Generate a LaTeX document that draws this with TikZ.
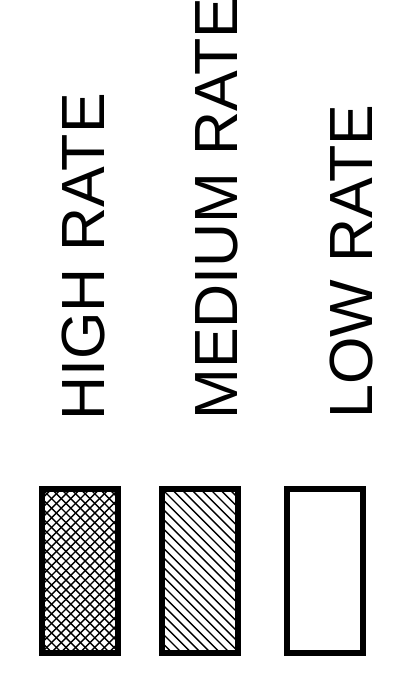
\documentclass[tikz,border=0pt]{standalone}
\usepackage{fontspec}
\setmainfont{Liberation Sans}

\begin{document}
\begin{tikzpicture}[
  x=1pt,y=-1pt,
  key/.style={draw,line width=6pt,minimum width=76pt,minimum height=163.5pt,
              inner sep=0pt,outer sep=0pt},
  hatchline/.style={line width=1.4pt},
  rate/.style={rotate=90,anchor=base west,inner sep=0pt,
               font=\fontsize{61}{61}\selectfont}
]
\useasboundingbox (0,0) rectangle (413,676);

\node[key] (high)   at (80,570.75) {};
\node[key] (medium) at (200,570.75) {};
\node[key] (low)    at (325,570.75) {};

% cross hatching
\begin{scope}
  \clip (high.south west) rectangle (high.north east);
  \foreach \d in {-172.8,-163.2,...,80}
    \draw[hatchline] ([xshift=\d pt]high.north west) -- ++(180,180);
  \foreach \d in {0,9.6,...,256}
    \draw[hatchline] ([xshift=\d pt]high.north west) -- ++(-180,180);
\end{scope}

% single hatching
\begin{scope}
  \clip (medium.south west) rectangle (medium.north east);
  \foreach \d in {-172.8,-163.2,...,80}
    \draw[hatchline] ([xshift=\d pt]medium.north west) -- ++(180,180);
\end{scope}

\node[key] at (high)   {};
\node[key] at (medium) {};

\node[rate] (highlbl)   at (104,421) {HIGH RATE};
\node[rate] (mediumlbl) at (237,420) {MEDIUM RATE};
\node[rate] (lowlbl)    at (372,419) {LOW RATE};
\end{tikzpicture}
\end{document}
